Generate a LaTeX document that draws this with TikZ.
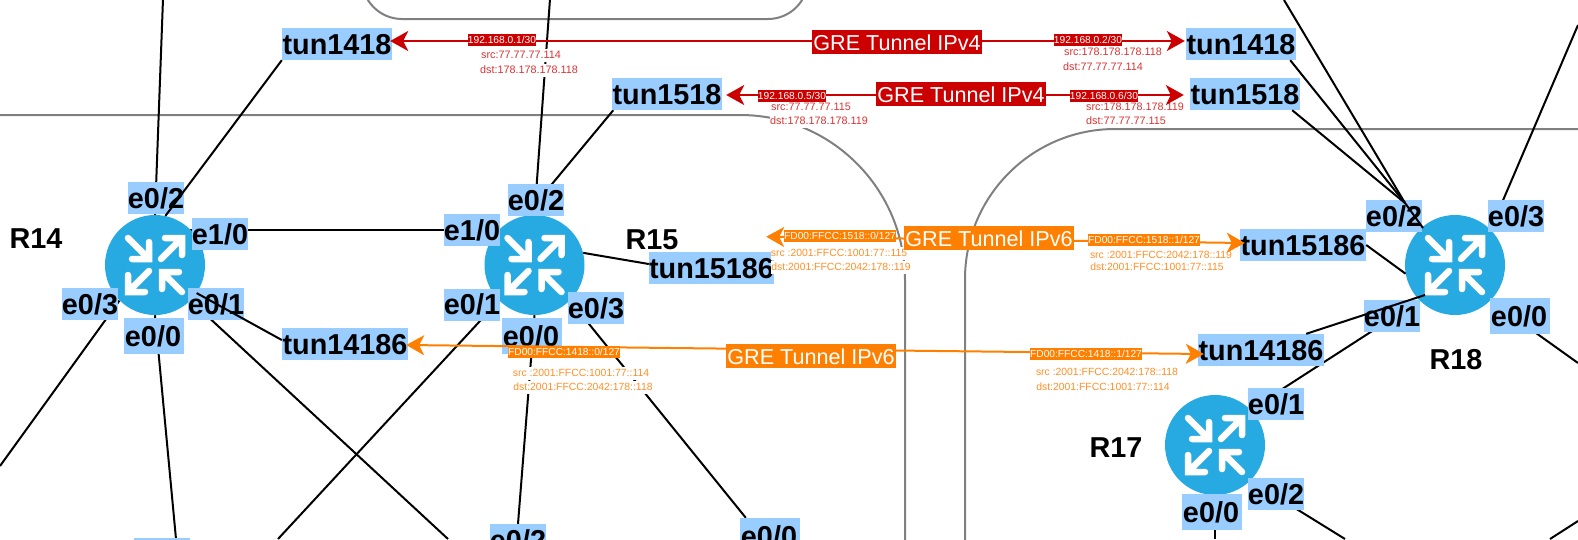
\documentclass[tikz,border=0pt]{standalone}
\usepackage{fontspec}
\setmainfont{Liberation Sans}
\usetikzlibrary{arrows.meta,calc}
\pgfdeclarelayer{under}
\pgfdeclarelayer{mid}
\pgfsetlayers{under,mid,main}
\definecolor{lblblue}{HTML}{99CCFF}
\definecolor{routerblue}{HTML}{27AAE1}
\definecolor{grered}{HTML}{CC0000}
\definecolor{greorange}{HTML}{FF8000}
\definecolor{infored}{HTML}{D83434}
\definecolor{infoorange}{HTML}{FF8F26}
\definecolor{boxgray}{HTML}{808080}
\tikzset{
  x=1pt,y=-1pt,
  router/.style={circle,fill=routerblue,inner sep=0,minimum size=100pt},
  routerarrows/.pic={
    \draw[white,line width=6.5,line cap=round,line join=miter]
      (-27,-27)--(-6,-6) (-6,-23)--(-6,-6)--(-23,-6)
      (6,-6)--(27,-27) (10,-27)--(27,-27)--(27,-10)
      (-6,6)--(-27,27) (-27,10)--(-27,27)--(-10,27)
      (27,27)--(7,7) (24,7)--(7,7)--(7,24);
  },
  ifc/.style={fill=lblblue,text=black,inner sep=0,font=\bfseries\fontsize{28.8}{30}\selectfont,
    text height=22pt,text depth=1.4pt,minimum width=56pt,minimum height=32pt},
  ifcwide/.style={ifc,minimum width=60pt,minimum height=36pt,execute at end node={\hspace{2pt}}},
  tunshort/.style={ifc,minimum width=110pt},
  tunlong/.style={ifc,minimum width=126pt},
  rname/.style={inner sep=0,font=\bfseries\fontsize{28.8}{30}\selectfont,text height=22pt,text depth=1.4pt},
  wire/.style={draw=black,line width=2pt},
  area/.style={draw=boxgray,line width=2pt},
  grebig/.style={inner sep=0,text=white,font=\fontsize{21.6}{24}\selectfont,minimum width=170pt,minimum height=24pt,text height=17pt,text depth=0.6pt},
  gresmall/.style={inner sep=0,text=white,font=\fontsize{10.2}{12}\selectfont,minimum height=12pt,text height=7.6pt,text depth=0.4pt},
  info/.style={inner sep=0,fill=white,minimum height=13pt,text height=7.6pt,text depth=0.4pt},
  infov4/.style={info,text=infored,font=\fontsize{10.8}{12}\selectfont},
  infov6/.style={info,text=infoorange,font=\fontsize{10.4}{12}\selectfont},
  v4arrow/.style={draw=grered,line width=2pt,{Stealth[length=18pt,width=20pt,inset=5pt]}-{Stealth[length=18pt,width=20pt,inset=5pt]}},
  v6arrow/.style={draw=greorange,line width=2pt,{Stealth[length=18pt,width=20pt,inset=5pt]}-{Stealth[length=18pt,width=20pt,inset=5pt]}},
}
\begin{document}
\begin{tikzpicture}
\useasboundingbox (0,0) rectangle (1578,539);
\clip (0,0) rectangle (1578,539);

% routers
\begin{pgfonlayer}{mid}
\path (155,265) node[router] (r14) {}
      (534.5,265) node[router] (r15) {}
      (1455,265) node[router] (r18) {}
      (1215,445) node[router] (r17) {};
\foreach \px/\py in {155/265,534.5/265,1455/265,1215/445}{
  \pic at (\px,\py) {routerarrows};
}
\end{pgfonlayer}

% free ends
\coordinate (top14) at (163,-1);
\coordinate (top15) at (550,-1);
\coordinate (top18) at (1284,0);
\coordinate (bl) at (0,466);
\coordinate (b14a) at (176,539);
\coordinate (b14b) at (448,539);
\coordinate (b15a) at (278,539);
\coordinate (b17a) at (1215,539);
\coordinate (b17b) at (1345,539);
\coordinate (tr) at (1578,25);
\coordinate (r18out) at (1578,363);
\coordinate (brA) at (1550,539);
\coordinate (brB) at (1578,521);
\coordinate (p18) at (1425,295);
\coordinate (q18) at (1405,203);
\coordinate (e18) at (1423,228);

% labels
\path
  (156,198) node[ifc] (a142) {e0/2}
  (220,234) node[ifc] (a1410) {e1/0}
  (90,304) node[ifc] (a143) {e0/3}
  (216,304) node[ifc] (a141) {e0/1}
  (154,336) node[ifcwide] (a140) {e0/0}
  (536,200) node[ifc] (a152) {e0/2}
  (472,230) node[ifc] (a1510) {e1/0}
  (472,304.5) node[ifc] (a151) {e0/1}
  (532,336) node[ifcwide] (a150) {e0/0}
  (596,308) node[ifc] (a153) {e0/3}
  (1394,216) node[ifc] (a182) {e0/2}
  (1516,216) node[ifc] (a183) {e0/3}
  (1392,316) node[ifc] (a181) {e0/1}
  (1520,316) node[ifcwide] (a180) {e0/0}
  (1276,404) node[ifc] (a171) {e0/1}
  (1276,494) node[ifc] (a172) {e0/2}
  (1212,512) node[ifcwide] (a170) {e0/0}
  (518,540) node[ifc] (bot2) {e0/2}
  (770,536) node[ifcwide] (bot0) {e0/0}
  (162,554) node[ifc] (botx) {}
  (337,44) node[tunshort] (t1418L) {tun1418}
  (667,94) node[tunshort] (t1518L) {tun1518}
  (345,344) node[tunlong] (t14186L) {tun14186}
  (711.5,268) node[tunlong,minimum width=125pt] (t15186L) {tun15186}
  (1241,44) node[tunshort] (t1418R) {tun1418}
  (1245,94) node[tunshort] (t1518R) {tun1518}
  (1303,245) node[tunlong] (t15186R) {tun15186}
  (1261,350) node[tunlong] (t14186R) {tun14186};

% grey areas and wires beneath routers and labels
\begin{pgfonlayer}{under}
\fill[white] (0,0) rectangle (1578,539);
\draw[area,rounded corners=40pt] (362,-100) rectangle (808,19);
\draw[area] (0,115) -- (740,115) .. controls (831.1,115) and (905,188.9) .. (905,280) -- (905,545);
\draw[area] (1585,129) -- (1115,129) .. controls (1032.2,129) and (965,196.2) .. (965,279) -- (965,545);
\begin{scope}[every path/.style={wire}]
\draw (top14) -- (r14.north);
\draw (r14.45) -- (r15.135);
\draw (r14.-45) -- (b14b);
\draw (r14.south) -- (b14a);
\draw (r14.225) -- (bl);
\draw (r15.225) -- (b15a);
\draw (top15) -- (r15.north);
\draw ([xshift=1.5pt]t1518L.south west) -- (r15.100);
\draw (r15.14) -- ([yshift=4pt]t15186L.west);
\draw (r15.-45) -- ([xshift=6pt]bot0.north west);
\draw (r15.south) -- (bot2.north);
\draw (r17.45) -- (r18.225);
\draw (r17.-45) -- (b17b);
\draw (r17.south) -- (b17a);
\draw (r18.45) -- (tr);
\draw (r18.-45) -- (r18out);
\draw (brA) -- (brB);
\end{scope}
\end{pgfonlayer}

% small info texts
\path
  (521,55) node[infov4] (i1) {src:77.77.77.114}
  (529,70) node[infov4] (i2) {dst:178.178.178.118}
  (1113,52) node[infov4] (i3) {src:178.178.178.118}
  (1103,67) node[infov4] (i4) {dst:77.77.77.114}
  (811,107) node[infov4] (i5) {src:77.77.77.115}
  (819,121) node[infov4] (i6) {dst:178.178.178.119}
  (1135,107) node[infov4] (i7) {src:178.178.178.119}
  (1126,121) node[infov4] (i8) {dst:77.77.77.115}
  (839,253) node[infov6] (o1) {src :2001:FFCC:1001:77::115}
  (841,267) node[infov6] (o2) {dst:2001:FFCC:2042:178::119}
  (1161,255) node[infov6] (o3) {src :2001:FFCC:2042:178::119}
  (1157,267) node[infov6] (o4) {dst:2001:FFCC:1001:77::115}
  (581,373) node[infov6] (o5) {src :2001:FFCC:1001:77::114}
  (583,387) node[infov6] (o6) {dst:2001:FFCC:2042:178::118}
  (1107,372) node[infov6] (o7) {src :2001:FFCC:2042:178::118}
  (1103,387) node[infov6] (o8) {dst:2001:FFCC:1001:77::114};

% router names
\path (36,238) node[rname] (n14) {R14}
      (652,239) node[rname] (n15) {R15}
      (1456,359) node[rname] (n18) {R18}
      (1116,447) node[rname] (n17) {R17};

% wires above labels
\begin{scope}[every path/.style={wire}]
\draw (t1418L.south west) -- (r14.78);
\draw (r14.-34) -- ([yshift=4pt]t14186L.west);
\draw (top18) -- (q18);
\draw ([xshift=-6pt]t1418R.south east) -- (q18);
\draw ([xshift=-8pt]t1518R.south east) -- (q18);
\draw (q18) -- (e18);
\draw (t15186R.east) -- (r18.190);
\draw ([xshift=-18pt]t14186R.north east) -- (p18);
\end{scope}

% tunnels
\draw[v4arrow] ([xshift=-2pt,yshift=3pt]t1418L.east) -- ([xshift=-1pt,yshift=3pt]t1418R.west);
\draw[v4arrow] ([xshift=4pt,yshift=-1pt]t1518L.east) -- ([xshift=-6pt,yshift=-1pt]t1518R.west);
\draw[v6arrow] ([xshift=-8pt,yshift=31.3pt]t15186L.east) -- ([xshift=5pt,yshift=2pt]t15186R.west);
\draw[v6arrow] ([xshift=-2pt,yshift=-1pt]t14186L.east) -- ([xshift=6pt,yshift=-4pt]t14186R.west);

\path
  (897,42) node[grebig,fill=grered] (g1) {GRE Tunnel IPv4}
  (961,94) node[grebig,fill=grered] (g2) {GRE Tunnel IPv4}
  (989,238) node[grebig,fill=greorange] (g3) {GRE Tunnel IPv6}
  (811,356) node[grebig,fill=greorange] (g4) {GRE Tunnel IPv6}
  (502,40) node[gresmall,fill=grered,minimum width=68pt] (s1) {192.168.0.1/30}
  (1088,40) node[gresmall,fill=grered,minimum width=68pt] (s2) {192.168.0.2/30}
  (792,96) node[gresmall,fill=grered,minimum width=68pt] (s3) {192.168.0.5/30}
  (1104,96) node[gresmall,fill=grered,minimum width=68pt] (s4) {192.168.0.6/30}
  (840,236) node[gresmall,fill=greorange,minimum width=112pt] (s5) {FD00:FFCC:1518::0/127}
  (1144,240) node[gresmall,fill=greorange,minimum width=112pt] (s6) {FD00:FFCC:1518::1/127}
  (564,352) node[gresmall,fill=greorange,minimum width=112pt] (s7) {FD00:FFCC:1418::0/127}
  (1086,354) node[gresmall,fill=greorange,minimum width=112pt] (s8) {FD00:FFCC:1418::1/127};
\end{tikzpicture}
\end{document}
